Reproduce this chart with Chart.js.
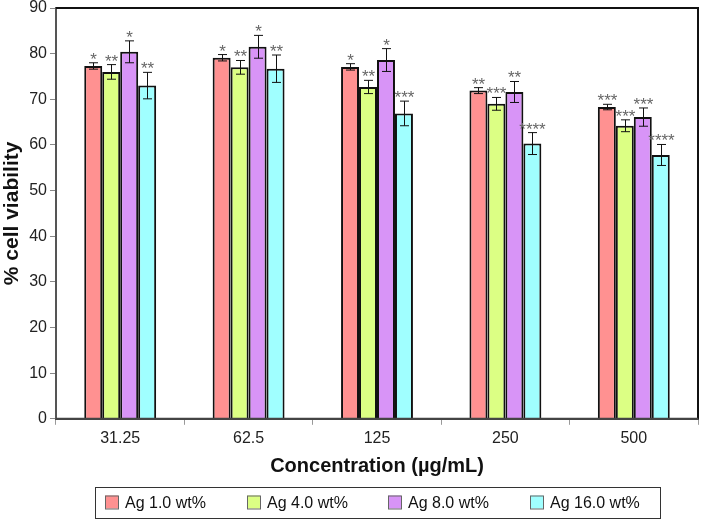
<!DOCTYPE html>
<html>
<head>
<meta charset="utf-8">
<script src="https://cdn.jsdelivr.net/npm/chart.js@4/dist/chart.umd.min.js"></script>
<style>
  html, body { margin: 0; padding: 0; background: #fff; }
  #wrap { width: 704px; height: 521px; }
</style>
</head>
<body>
<div id="wrap"><canvas id="chart" width="704" height="521"></canvas></div>
<script>
// data
const concentrations = ["31.25", "62.5", "125", "250", "500"];
const seriesNames = ["Ag 1.0 wt%", "Ag 4.0 wt%", "Ag 8.0 wt%", "Ag 16.0 wt%"];

const ag1 = [77.3, 79.1, 77.1, 71.9, 68.3];
const ag4 = [76.0, 77.0, 72.7, 69.0, 64.2];
const ag8 = [80.4, 81.5, 78.6, 71.6, 66.1];
const ag16 = [73.0, 76.7, 66.9, 60.3, 57.8];

const err1 = [0.7, 0.7, 0.7, 0.65, 0.6];
const err4 = [1.6, 1.5, 1.45, 1.4, 1.3];
const err8 = [2.4, 2.5, 2.5, 2.3, 2.0];
const err16 = [2.9, 3.0, 2.7, 2.4, 2.3];

const stars1 = ["*", "*", "*", "**", "***"];
const stars4 = ["**", "**", "**", "***", "***"];
const stars8 = ["*", "*", "*", "**", "***"];
const stars16 = ["**", "**", "***", "****", "****"];

const yTicks = [0, 10, 20, 30, 40, 50, 60, 70, 80, 90];

const colors = ["#ff9191", "#dcff84", "#d894f7", "#a0ffff"];
const values = [ag1, ag4, ag8, ag16];
const errors = [err1, err4, err8, err16];
const stars = [stars1, stars4, stars8, stars16];

const FONT = "'Liberation Sans', Arial, sans-serif";

// error bars, asterisks, plot frame and the boxed legend
const extras = {
    id: "extras",
    afterDatasetsDraw(chart) {
        const ctx = chart.ctx;
        const y = chart.scales.y;
        ctx.save();
        chart.data.datasets.forEach((ds, i) => {
            const meta = chart.getDatasetMeta(i);
            meta.data.forEach((bar, j) => {
                const v = ds.data[j];
                const e = errors[i][j];
                const yTop = y.getPixelForValue(v + e);
                const yBot = y.getPixelForValue(v - e);
                const x = Math.round(bar.x) + 0.5;
                ctx.strokeStyle = "#111";
                ctx.lineWidth = 1;
                ctx.beginPath();
                ctx.moveTo(x, yTop); ctx.lineTo(x, yBot);
                ctx.moveTo(x - 4.5, yTop); ctx.lineTo(x + 4.5, yTop);
                ctx.moveTo(x - 4.5, yBot); ctx.lineTo(x + 4.5, yBot);
                ctx.stroke();
                ctx.fillStyle = "#666";
                ctx.font = "17px " + FONT;
                ctx.textAlign = "center";
                ctx.textBaseline = "alphabetic";
                ctx.fillText(stars[i][j], x, yTop + 2);
            });
        });
        ctx.restore();
    },
    afterDraw(chart) {
        const ctx = chart.ctx;
        const a = chart.chartArea;
        ctx.save();
        ctx.strokeStyle = "#111";
        ctx.lineWidth = 2;
        ctx.beginPath();
        ctx.moveTo(a.left, a.top);
        ctx.lineTo(a.right, a.top);
        ctx.lineTo(a.right, a.bottom);
        ctx.stroke();
        ctx.strokeStyle = "#444";
        ctx.beginPath();
        ctx.moveTo(a.left, a.bottom);
        ctx.lineTo(a.right, a.bottom);
        ctx.stroke();

        // legend
        const boxW = 565, boxH = 31;
        const boxLeft = Math.round((a.left + a.right) / 2 - boxW / 2) + 1;
        const boxTop = chart.height - 34;
        ctx.strokeStyle = "#333";
        ctx.lineWidth = 1;
        ctx.strokeRect(boxLeft + 0.5, boxTop + 0.5, boxW, boxH);
        ctx.font = "16px " + FONT;
        ctx.textAlign = "left";
        ctx.textBaseline = "middle";
        seriesNames.forEach((name, i) => {
            const ix = boxLeft + 10 + Math.round(i * 141.7);
            const cy = boxTop + boxH / 2;
            ctx.fillStyle = colors[i];
            ctx.fillRect(ix, cy - 7, 13, 13);
            ctx.strokeStyle = "#666";
            ctx.strokeRect(ix + 0.5, cy - 6.5, 13, 13);
            ctx.fillStyle = "#111";
            ctx.fillText(name, ix + 20, cy + 1);
        });
        ctx.restore();
    }
};

new Chart(document.getElementById("chart"), {
    type: "bar",
    data: {
        labels: concentrations,
        datasets: values.map((vals, i) => ({
            label: seriesNames[i],
            data: vals,
            backgroundColor: colors[i],
            borderColor: "#111",
            borderWidth: 2,
            categoryPercentage: 0.56,
            barPercentage: 1.0
        }))
    },
    options: {
        responsive: false,
        animation: false,
        layout: { padding: { top: 8, right: 6, bottom: 41, left: 0 } },
        plugins: {
            tooltip: { enabled: false },
            legend: { display: false }
        },
        scales: {
            x: {
                grid: {
                    offset: true,
                    drawOnChartArea: false,
                    drawTicks: true,
                    tickLength: 6,
                    color: "#999"
                },
                border: { display: true, color: "#444", width: 2 },
                ticks: {
                    color: "#222",
                    padding: 4,
                    font: { family: FONT, size: 16 }
                },
                title: {
                    display: true,
                    text: "Concentration (µg/mL)",
                    color: "#111",
                    padding: { top: 2, bottom: 2 },
                    font: { family: FONT, size: 20, weight: "bold" }
                }
            },
            y: {
                min: 0,
                max: 90,
                afterBuildTicks(scale) {
                    scale.ticks = yTicks.map(v => ({ value: v }));
                },
                afterFit(scale) {
                    scale.paddingTop = 0;
                },
                grid: {
                    drawOnChartArea: false,
                    drawTicks: true,
                    tickLength: 6,
                    color: "#888"
                },
                border: { display: true, color: "#555", width: 2 },
                ticks: {
                    color: "#222",
                    padding: 3,
                    font: { family: FONT, size: 16 }
                },
                title: {
                    display: true,
                    text: "% cell viability",
                    color: "#111",
                    padding: { top: 0, bottom: 1 },
                    font: { family: FONT, size: 21, weight: "bold" }
                }
            }
        }
    },
    plugins: [extras]
});
</script>
</body>
</html>
